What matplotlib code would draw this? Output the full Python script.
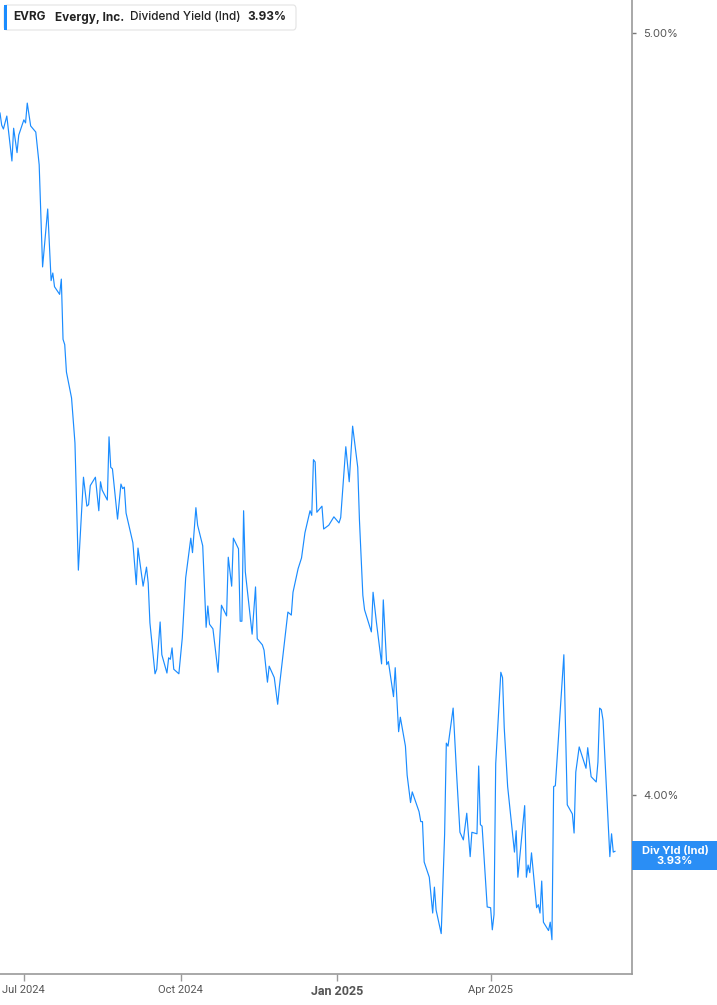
import numpy as np
import matplotlib
matplotlib.use('Agg')
import matplotlib.pyplot as plt
import matplotlib.transforms as mtransforms
from matplotlib.patches import Rectangle, FancyBboxPatch

plt.rcParams['font.family'] = ['Inter', 'DejaVu Sans']

# days counted from 2024-07-01
day_offsets = [
    -14, -13, -12, -10, -7, -6, -4, -3, 0, 1, 2, 4, 7, 9, 11, 14, 16, 17, 18, 21,
    22, 23, 24, 25, 28, 30, 32, 35, 37, 38, 39, 42, 44, 45, 46, 49, 50, 51, 52, 55,
    57, 58, 59, 60, 64, 66, 67, 70, 72, 73, 74, 77, 78, 80, 81, 84, 85, 86, 87, 88,
    91, 93, 95, 98, 99, 101, 102, 105, 107, 108, 109, 111, 114, 116, 119, 120, 122, 123, 126, 127,
    128, 129, 130, 134, 136, 137, 140, 141, 143, 144, 147, 149, 150, 155, 157, 158, 161, 163, 165, 168,
    169, 170, 171, 172, 175, 176, 179, 182, 185, 186, 189, 191, 193, 196, 197, 199, 200, 204, 205, 207,
    210, 211, 213, 214, 217, 218, 220, 221, 224, 225, 227, 228, 232, 233, 234, 235, 238, 240, 241, 242,
    245, 247, 248, 249, 252, 254, 256, 258, 260, 262, 263, 266, 267, 268, 269, 272, 274, 275, 276, 277,
    280, 281, 282, 284, 288, 289, 290, 294, 295, 296, 297, 298, 301, 302, 303, 304, 305, 308, 309, 310,
    311, 312, 317, 319, 322, 323, 324, 326, 330, 331, 333, 336, 337, 338, 339, 340, 344, 345, 346, 347,
]

div_yield = [
    4.895, 4.879, 4.874, 4.891, 4.832, 4.875, 4.843, 4.866, 4.886, 4.882, 4.908, 4.878, 4.870, 4.827, 4.693, 4.769, 4.675, 4.685, 4.667, 4.657,
    4.677, 4.598, 4.591, 4.555, 4.521, 4.462, 4.295, 4.417, 4.379, 4.381, 4.406, 4.417, 4.373, 4.411, 4.400, 4.387, 4.470, 4.430, 4.428, 4.362,
    4.408, 4.402, 4.404, 4.370, 4.331, 4.276, 4.324, 4.274, 4.299, 4.278, 4.226, 4.159, 4.165, 4.227, 4.184, 4.160, 4.180, 4.178, 4.193, 4.165,
    4.159, 4.206, 4.285, 4.337, 4.318, 4.377, 4.354, 4.327, 4.220, 4.248, 4.224, 4.218, 4.161, 4.249, 4.235, 4.312, 4.274, 4.337, 4.323, 4.228,
    4.228, 4.373, 4.293, 4.211, 4.273, 4.205, 4.197, 4.190, 4.148, 4.169, 4.154, 4.119, 4.142, 4.240, 4.236, 4.266, 4.297, 4.311, 4.344, 4.373,
    4.367, 4.440, 4.437, 4.371, 4.379, 4.349, 4.354, 4.365, 4.357, 4.364, 4.457, 4.411, 4.484, 4.430, 4.361, 4.262, 4.243, 4.214, 4.266, 4.226,
    4.172, 4.256, 4.171, 4.175, 4.129, 4.167, 4.083, 4.102, 4.064, 4.026, 3.990, 4.004, 3.978, 3.965, 3.965, 3.912, 3.892, 3.845, 3.879, 3.849,
    3.818, 3.948, 4.068, 4.064, 4.114, 4.029, 3.951, 3.941, 3.976, 3.919, 3.951, 3.949, 4.038, 3.961, 3.959, 3.853, 3.852, 3.823, 3.843, 4.041,
    4.161, 4.154, 4.088, 4.011, 3.925, 3.953, 3.892, 3.986, 3.892, 3.908, 3.898, 3.924, 3.852, 3.856, 3.845, 3.887, 3.833, 3.822, 3.833, 3.810,
    4.011, 4.012, 4.184, 3.987, 3.975, 3.950, 4.030, 4.063, 4.035, 4.062, 4.024, 4.017, 4.043, 4.114, 4.112, 4.098, 3.919, 3.949, 3.925, 3.926,
]

ticker = 'EVRG'
company = 'Evergy, Inc.'
metric = 'Dividend Yield (Ind)'
short_metric = 'Div Yld (Ind)'

y_ticks = [4.0, 5.0]
x_tick_dates = ['2024-07-01', '2024-10-01', '2025-01-01', '2025-04-01']
x_tick_labels = ['Jul 2024', 'Oct 2024', 'Jan 2025', 'Apr 2025']

BLUE = '#1a8cff'
GREY = '#9a9a9a'
TEXT = '#555555'

W, H = 717, 1005


def fx(px):
    return px / W


def fy(py):
    return 1 - py / H


dates = np.datetime64('2024-07-01') + np.array(day_offsets).astype('timedelta64[D]')
last = div_yield[-1]

fig = plt.figure(figsize=(W / 100, H / 100), dpi=100)
ax = fig.add_axes([0, fy(974), fx(632), 974 / H])

ax.plot(dates, div_yield, color=BLUE, lw=0.85)

ax.set_xlim(np.datetime64('2024-06-17'), np.datetime64('2025-06-23'))
ax.set_ylim(3.765, 5.0433)

for s in ['top', 'left']:
    ax.spines[s].set_visible(False)
for s in ['right', 'bottom']:
    ax.spines[s].set_color(GREY)
    ax.spines[s].set_linewidth(1.2)

ax.yaxis.tick_right()
ax.set_yticks(y_ticks)
ax.set_yticklabels(['%.2f%%' % v for v in y_ticks])
ax.tick_params(axis='y', length=3, width=1, color='#777777', labelsize=8, labelcolor=TEXT, pad=5)

ax.set_xticks([np.datetime64(d) for d in x_tick_dates])
ax.set_xticklabels(x_tick_labels)
ax.tick_params(axis='x', length=5, width=1, color=GREY, labelsize=8, labelcolor=TEXT, pad=3)
for lab in ax.get_xticklabels():
    lab.set_family(['Roboto', 'DejaVu Sans'])
    if lab.get_text().startswith('Jan'):
        lab.set_fontweight('bold')
        lab.set_fontsize(9)

# last value box on the right axis
trans = mtransforms.blended_transform_factory(ax.transAxes, ax.transData)
box_h = 29 / 762
box_mid = last - 0.006
ax.add_patch(Rectangle((1.0, box_mid - box_h / 2), (717 - 632) / 632, box_h, transform=trans,
                       facecolor='#2a8ef5', edgecolor='none', clip_on=False, zorder=5))
ax.text(1 + (675 - 632) / 632, box_mid, '%s\n%.2f%%' % (short_metric, last), transform=trans,
        ha='center', va='center', color='white', fontsize=8, fontweight='bold',
        linespacing=1.0, zorder=6, clip_on=False)

# header legend
fig.patches.append(FancyBboxPatch((fx(4), fy(30)), fx(292), 25 / H, transform=fig.transFigure,
                                  boxstyle='round,pad=0,rounding_size=0.004',
                                  facecolor='white', edgecolor='#e3e3e3', lw=0.8))
fig.patches.append(Rectangle((fx(4), fy(30)), fx(3), 25 / H, transform=fig.transFigure,
                             facecolor=BLUE, edgecolor='none'))
ty = fy(17.5)
fig.text(fx(13), ty, ticker, fontsize=8.5, fontweight='bold', color='#222222', va='center')
fig.text(fx(55), ty, company, fontsize=8.5, fontweight='bold', color='#222222', va='center')
fig.text(fx(130), ty, metric, fontsize=8.5, fontweight='medium', color='#222222', va='center')
fig.text(fx(247), ty, '%.2f%%' % last, fontsize=8.5, fontweight='bold', color='#222222', va='center')

fig.savefig('out.png', dpi=100)
